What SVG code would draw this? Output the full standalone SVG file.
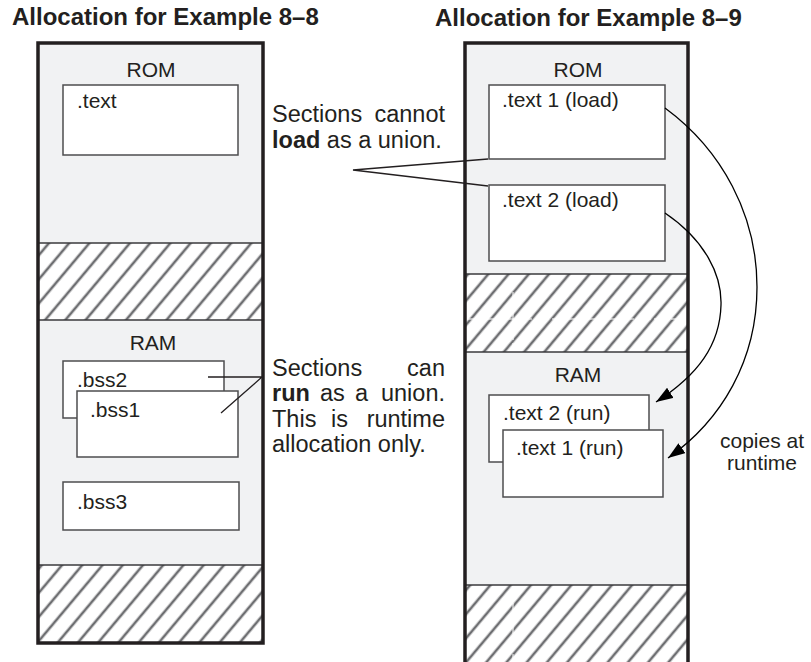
<svg xmlns="http://www.w3.org/2000/svg" width="811" height="662" viewBox="0 0 811 662">
<defs>
<style>
.t{font-family:"Liberation Sans",Arial,Helvetica,sans-serif;fill:#231f20}
.title{font-size:24px;font-weight:bold}
.lbl{font-size:21px}
.ann{font-size:23.5px}
.b{font-weight:bold}
.mem{fill:#f1f2f3}
.box{fill:#fff;stroke:#4d4d4f;stroke-width:1.5}
.div{stroke:#3a3a3c;stroke-width:1.5;fill:none}
.outer{fill:none;stroke:#231f20;stroke-width:3.5}
.ptr{stroke:#231f20;stroke-width:1.3;fill:none}
.arc{stroke:#000;stroke-width:1.3;fill:none;marker-end:url(#ah)}
.seam{stroke:#fff;stroke-width:1;stroke-dasharray:14 3;fill:none}
</style>
<pattern id="hatch" patternUnits="userSpaceOnUse" width="16" height="15.5" patternTransform="rotate(-50)">
<rect width="16" height="15.5" fill="#fff"/>
<line x1="-1" y1="7.75" x2="17" y2="7.75" stroke="#6d6e71" stroke-width="2.6"/>
</pattern>
<marker id="ah" markerUnits="userSpaceOnUse" markerWidth="18" markerHeight="12" refX="17" refY="6" orient="auto">
<path d="M0,0 L17,6 L0,12 z" fill="#000"/>
</marker>
</defs>

<text class="t title" x="12" y="25">Allocation for Example 8–8</text>
<text class="t title" x="435" y="26">Allocation for Example 8–9</text>

<g id="mem-left">
<rect class="mem" x="38" y="43" width="225" height="600"/>
<rect x="39" y="243" width="223" height="77" fill="url(#hatch)"/>
<rect x="39" y="565" width="223" height="78" fill="url(#hatch)"/>
<line class="div" x1="38" y1="243" x2="263" y2="243"/>
<line class="div" x1="38" y1="320" x2="263" y2="320"/>
<line class="div" x1="38" y1="565" x2="263" y2="565"/>
<rect class="outer" x="38" y="43" width="225" height="600"/>
<text class="t lbl" x="151" y="77" text-anchor="middle">ROM</text>
<text class="t lbl" x="153" y="350" text-anchor="middle">RAM</text>
</g>

<g id="left-text">
<rect class="box" x="63" y="85" width="175" height="70"/>
<text class="t lbl" x="77" y="108">.text</text>
</g>
<g id="left-bss2">
<rect class="box" x="63" y="361" width="161" height="57"/>
<text class="t lbl" x="77" y="387">.bss2</text>
</g>
<g id="left-bss1">
<rect class="box" x="77" y="391" width="161" height="66"/>
<text class="t lbl" x="90" y="417">.bss1</text>
</g>
<g id="left-bss3">
<rect class="box" x="63" y="482" width="176" height="48"/>
<text class="t lbl" x="77" y="509">.bss3</text>
</g>

<g id="mem-right">
<rect class="mem" x="465" y="43" width="223" height="640"/>
<rect x="466" y="274" width="221" height="78" fill="url(#hatch)"/>
<rect x="466" y="585" width="221" height="90" fill="url(#hatch)"/>
<line class="seam" x1="513" y1="275" x2="513" y2="351"/>
<line class="seam" x1="467" y1="319" x2="686" y2="319"/>
<line class="seam" x1="513" y1="586" x2="513" y2="662"/>
<line class="div" x1="465" y1="274" x2="688" y2="274"/>
<line class="div" x1="465" y1="352" x2="688" y2="352"/>
<line class="div" x1="465" y1="585" x2="688" y2="585"/>
<path class="outer" d="M465,700 L465,43 L688,43 L688,700"/>
<text class="t lbl" x="578" y="77" text-anchor="middle">ROM</text>
<text class="t lbl" x="578" y="382" text-anchor="middle">RAM</text>
</g>

<g id="right-text1-load">
<rect class="box" x="489" y="85" width="176" height="74"/>
<text class="t lbl" x="502" y="107">.text 1 (load)</text>
</g>
<g id="right-text2-load">
<rect class="box" x="489" y="185" width="176" height="76"/>
<text class="t lbl" x="502" y="207">.text 2 (load)</text>
</g>
<g id="right-text2-run">
<rect class="box" x="489" y="395" width="160" height="67"/>
<text class="t lbl" x="503" y="420">.text 2 (run)</text>
</g>
<g id="right-text1-run">
<rect class="box" x="503" y="430" width="160" height="67"/>
<text class="t lbl" x="516" y="455">.text 1 (run)</text>
</g>

<g id="note-load">
<text class="t ann" y="122"><tspan x="272">Sections</tspan><tspan x="445" text-anchor="end">cannot</tspan></text>
<text class="t ann" x="272" y="148"><tspan class="b">load</tspan> as a union.</text>
</g>
<g id="note-run">
<text class="t ann" y="376"><tspan x="272">Sections</tspan><tspan x="445" text-anchor="end">can</tspan></text>
<text class="t ann" y="401"><tspan x="272" class="b">run</tspan><tspan x="320">as</tspan><tspan x="355">a</tspan><tspan x="445" text-anchor="end">union.</tspan></text>
<text class="t ann" y="427"><tspan x="272">This</tspan><tspan x="331">is</tspan><tspan x="445" text-anchor="end">runtime</tspan></text>
<text class="t ann" x="272" y="452">allocation only.</text>
</g>
<g id="note-copies">
<text class="t lbl" x="762" y="448" text-anchor="middle">copies at</text>
<text class="t lbl" x="762" y="470" text-anchor="middle">runtime</text>
</g>

<g id="connectors">
<path class="ptr" d="M488,159 L353,170 L488,186"/>
<path class="ptr" d="M208,377 L262,377 L221,413"/>
<path class="arc" d="M665,108 C722,150 757,215 757,287 C757,360 722,420 668,458"/>
<path class="arc" d="M665,213 C705,240 722,275 721,305 C720,345 698,375 656,402"/>
</g>
</svg>
